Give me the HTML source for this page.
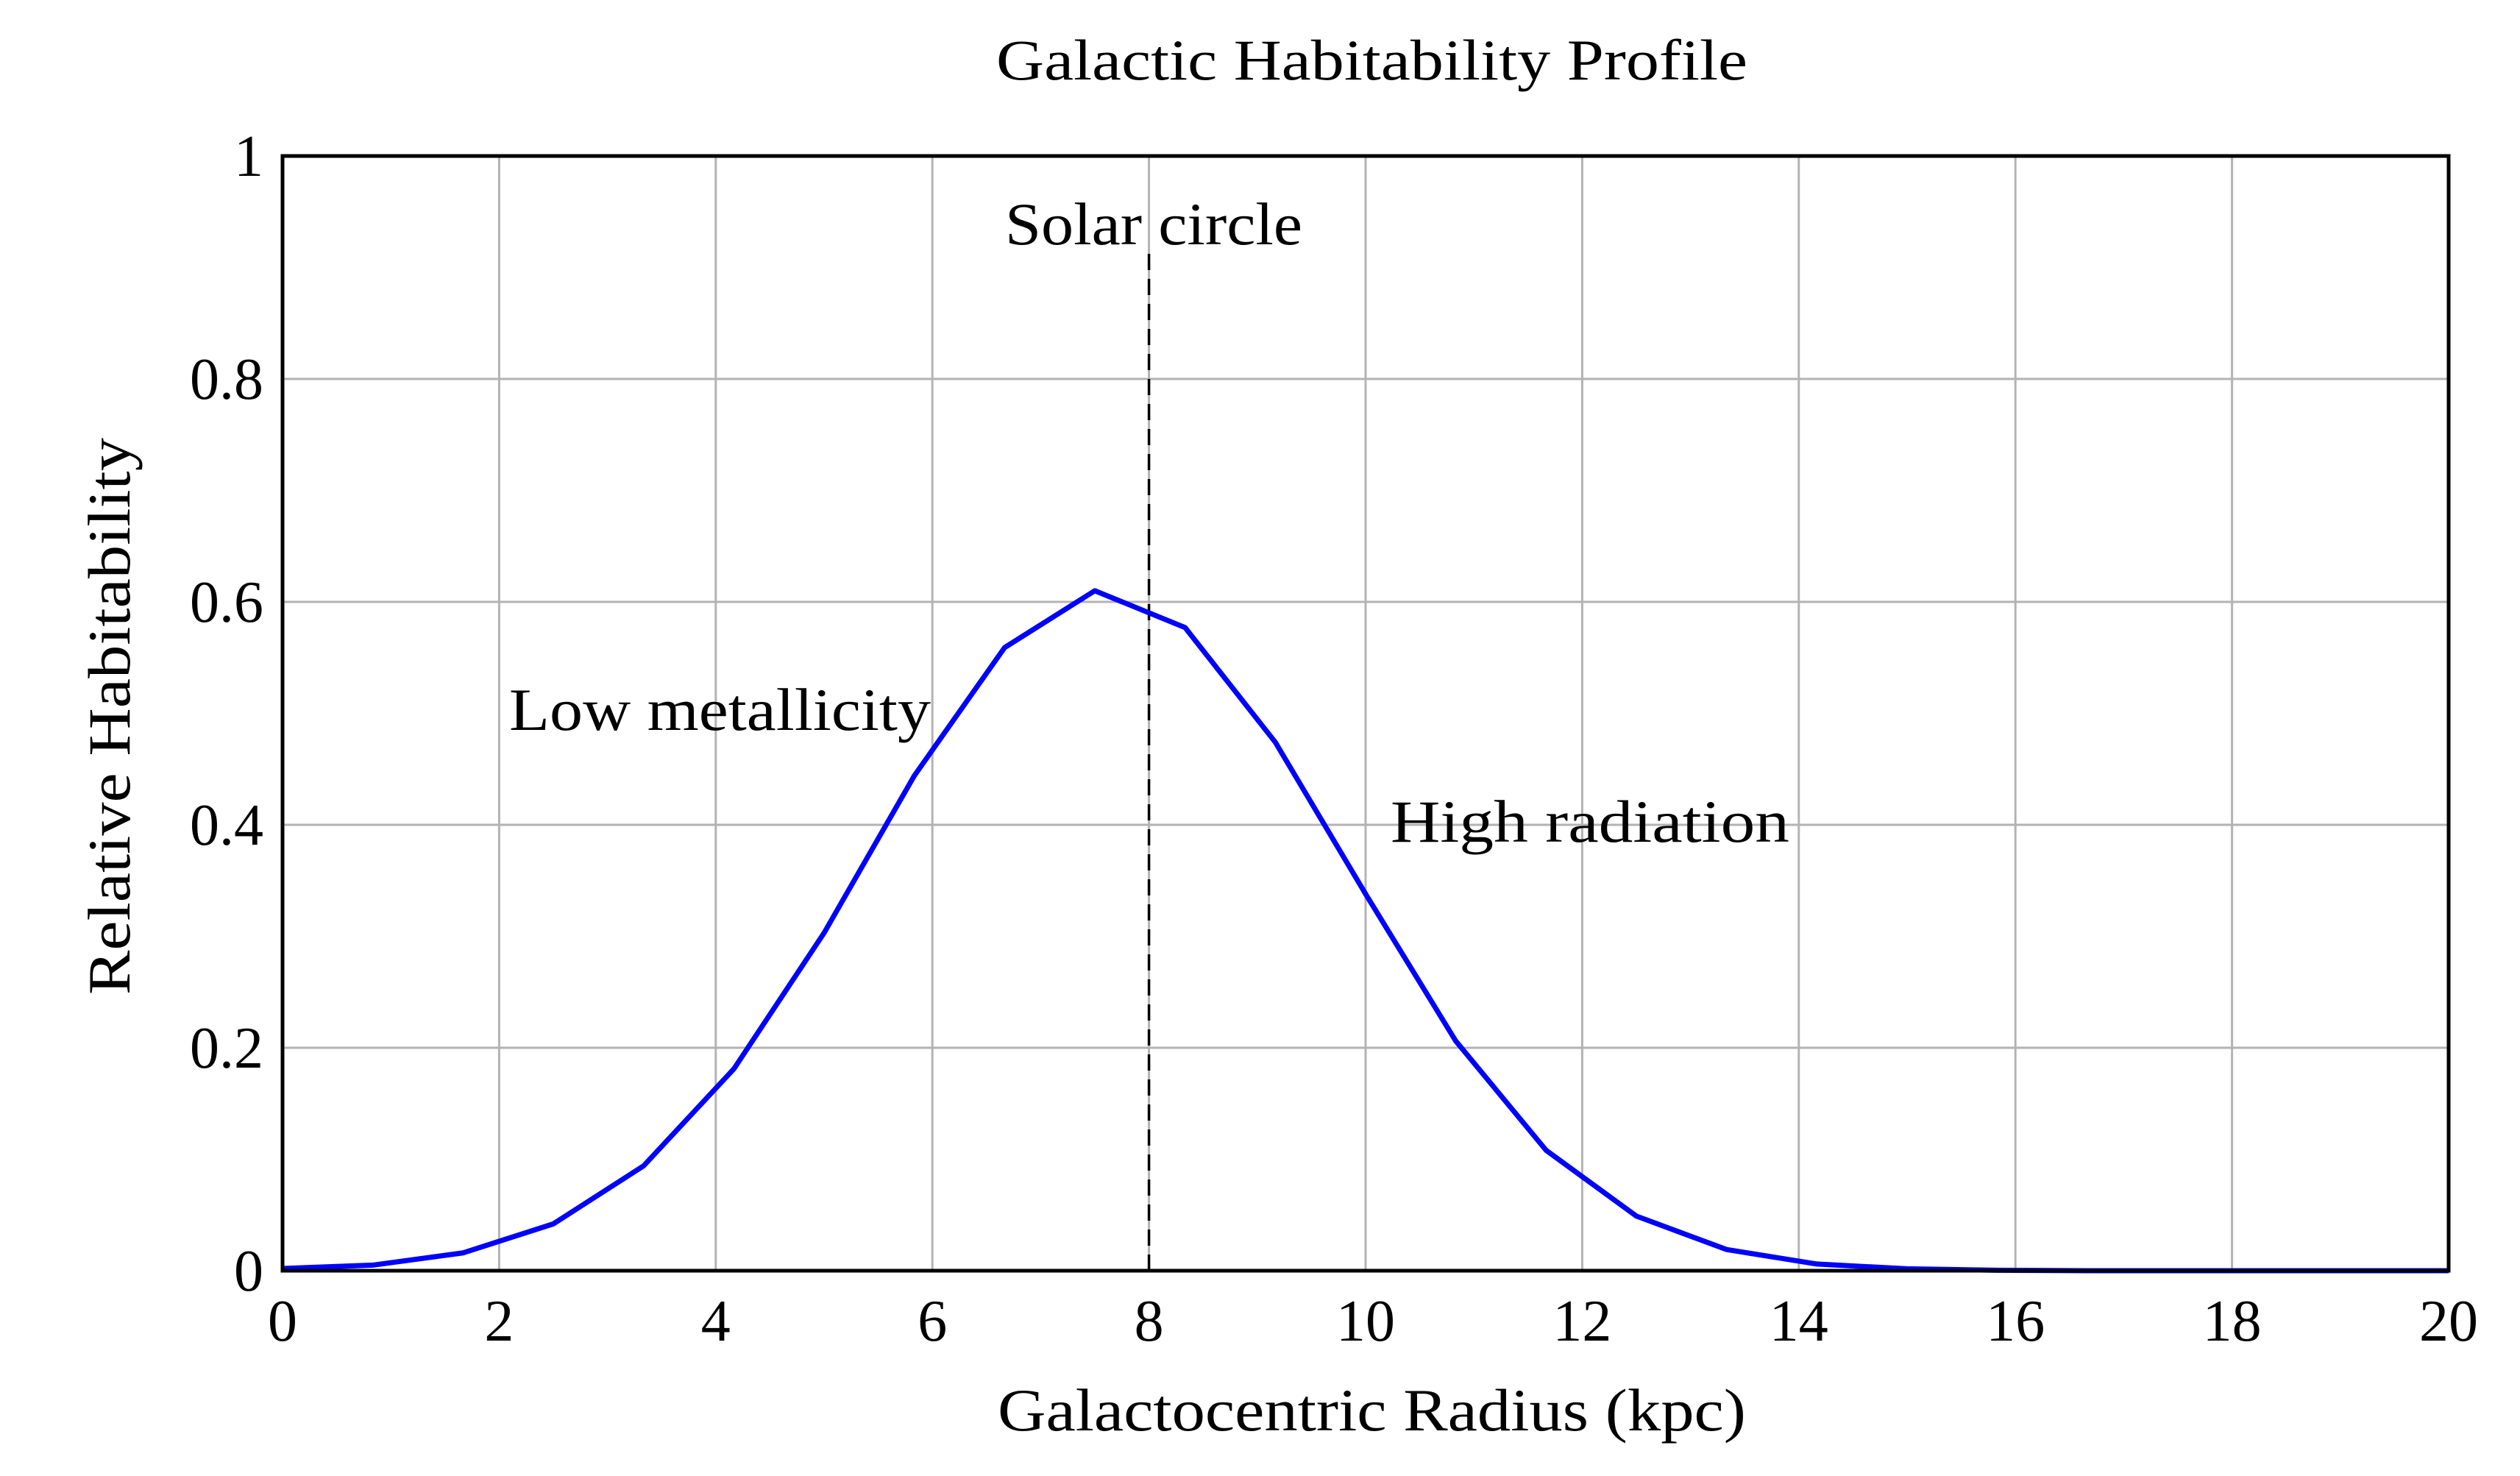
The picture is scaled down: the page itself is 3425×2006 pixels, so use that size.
<!DOCTYPE html>
<html><head><meta charset="utf-8"><style>
html,body{margin:0;padding:0;background:#fff;}
svg{display:block;font-family:"Liberation Serif",serif;}
</style></head><body>
<svg id="chart" width="3425" height="2006" viewBox="0 0 3425 2006">
<g id="grid"></g>
<g id="ticks"></g>
<line id="solar" stroke="#000" stroke-width="3.5" stroke-dasharray="22,12"/>
<polyline id="series" fill="none" stroke="#0000ff" stroke-width="7" stroke-linejoin="round"/>
<rect x="384" y="212" width="2944" height="1515" fill="none" stroke="#000" stroke-width="5"/>
<text x="1354" y="108" font-size="78" textLength="1021" lengthAdjust="spacingAndGlyphs">Galactic Habitability Profile</text>
<text x="1356" y="1944" font-size="82" textLength="1017" lengthAdjust="spacingAndGlyphs">Galactocentric Radius (kpc)</text>
<text transform="translate(176,1352) rotate(-90)" font-size="82" textLength="757" lengthAdjust="spacingAndGlyphs">Relative Habitability</text>
<text x="1366" y="332" font-size="82" textLength="404" lengthAdjust="spacingAndGlyphs">Solar circle</text>
<text x="692" y="992" font-size="82" textLength="573" lengthAdjust="spacingAndGlyphs">Low metallicity</text>
<text x="1890" y="1144" font-size="82" textLength="542" lengthAdjust="spacingAndGlyphs">High radiation</text>
</svg>
<script>
const xTicks=[0,2,4,6,8,10,12,14,16,18,20];
const yTicks=[0,0.2,0.4,0.6,0.8,1];
const yTickLabels=["0","0.2","0.4","0.6","0.8","1"];
const xs=[0,0.833,1.667,2.5,3.333,4.167,5,5.833,6.667,7.5,8.333,9.167,10,10.833,11.667,12.5,13.333,14.167,15,15.833,16.667,17.5,18.333,19.167,20];
const ys=[0.002,0.005,0.016,0.042,0.094,0.181,0.303,0.444,0.559,0.61,0.577,0.474,0.338,0.206,0.108,0.049,0.019,0.006,0.0017,0.0004,0,0,0,0,0];
const solarX=8;
const L=384,R=3328,T=212,B=1727;
const sx=v=>L+(v-0)/(20-0)*(R-L);
const sy=v=>B-(v-0)/(1-0)*(B-T);
const NS="http://www.w3.org/2000/svg";
const grid=document.getElementById('grid'),ticks=document.getElementById('ticks');
xTicks.forEach(t=>{
 const l=document.createElementNS(NS,'line');
 
 
 l.setAttribute('x1',sx(t));l.setAttribute('x2',sx(t));l.setAttribute('y1',T);l.setAttribute('y2',B);
 l.setAttribute('stroke','#b3b3b3');l.setAttribute('stroke-width','3');grid.appendChild(l);
 const tx=document.createElementNS(NS,'text');
 
 
 tx.setAttribute('x',sx(t));tx.setAttribute('y',1822);tx.setAttribute('font-size','80');tx.setAttribute('text-anchor','middle');
 tx.textContent=String(t);ticks.appendChild(tx);
});
yTicks.forEach((t,i)=>{
 const l=document.createElementNS(NS,'line');
 
 
 l.setAttribute('x1',L);l.setAttribute('x2',R);l.setAttribute('y1',sy(t));l.setAttribute('y2',sy(t));
 l.setAttribute('stroke','#b3b3b3');l.setAttribute('stroke-width','3');grid.appendChild(l);
 const tx=document.createElementNS(NS,'text');
 
 
 tx.setAttribute('x',358);tx.setAttribute('y',sy(t)+27);tx.setAttribute('font-size','80');tx.setAttribute('text-anchor','end');
 tx.textContent=yTickLabels[i];ticks.appendChild(tx);
});
document.getElementById('series').setAttribute('points',xs.map((x,i)=>sx(x)+','+sy(ys[i])).join(' '));
const s=document.getElementById('solar');
s.setAttribute('x1',sx(solarX));s.setAttribute('x2',sx(solarX));s.setAttribute('y1',345);s.setAttribute('y2',B);
</script>
</body></html>
